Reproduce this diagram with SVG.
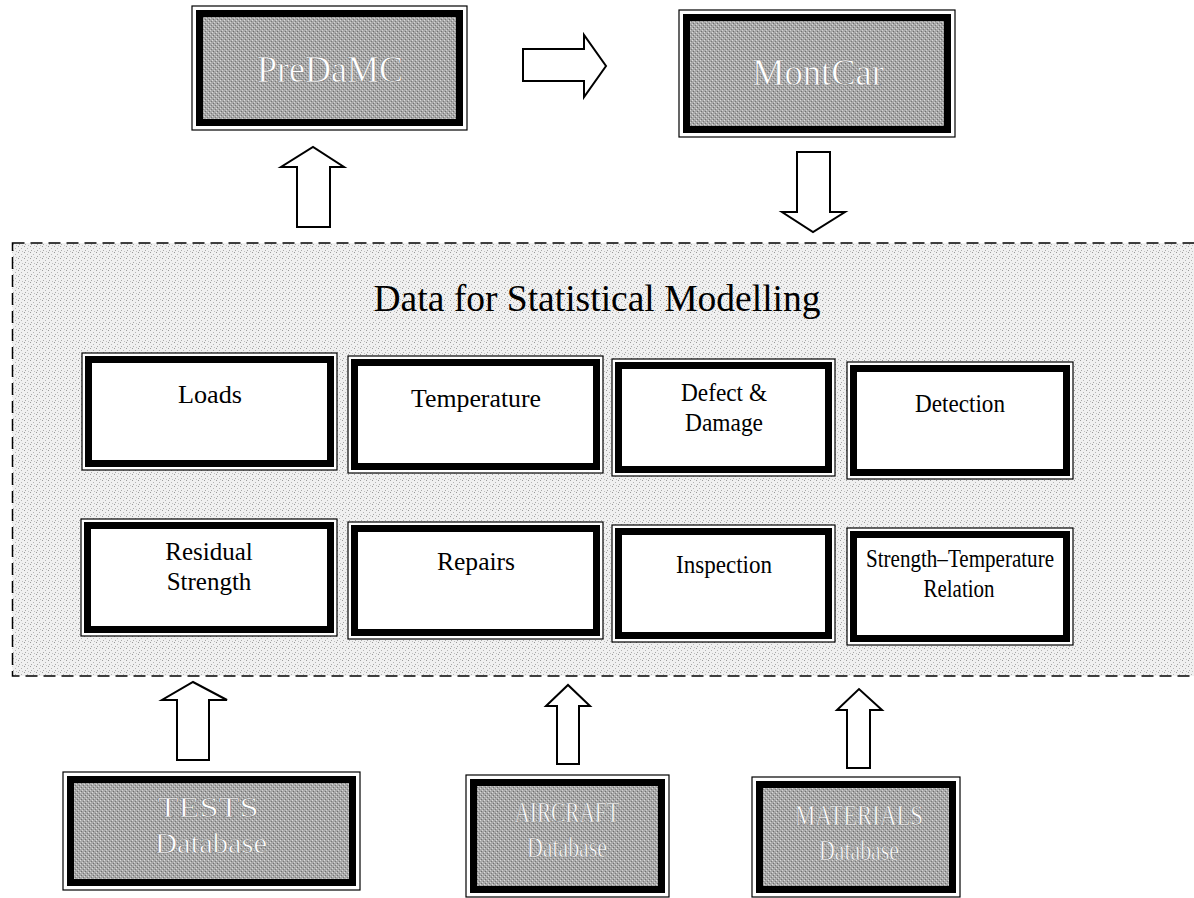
<svg xmlns="http://www.w3.org/2000/svg" width="1194" height="898" viewBox="0 0 1194 898">
  <defs>
    <pattern id="speckle" width="6" height="6" patternUnits="userSpaceOnUse">
      <rect width="6" height="6" fill="#f0f0f0"/>
      <rect x="0" y="0" width="1" height="1" fill="#9a9a9a"/>
      <rect x="3" y="2" width="1" height="1" fill="#b4b4b4"/>
      <rect x="1" y="4" width="1" height="1" fill="#a8a8a8"/>
      <rect x="4" y="5" width="1" height="1" fill="#c0c0c0"/>
    </pattern>
    <pattern id="darkspeckle" width="4" height="4" patternUnits="userSpaceOnUse">
      <rect width="4" height="4" fill="#a8a8a8"/>
      <rect x="0" y="0" width="1" height="1" fill="#dadada"/>
      <rect x="2" y="2" width="1" height="1" fill="#d2d2d2"/>
      <rect x="1" y="3" width="1" height="1" fill="#707070"/>
      <rect x="3" y="1" width="1" height="1" fill="#7a7a7a"/>
    </pattern>
  </defs>
  <style>
    .outer { fill: #ffffff; stroke: #000; stroke-width: 1.2; }
    .band { fill: #ffffff; stroke: #000; stroke-width: 7; }
    .dband { fill: url(#darkspeckle); stroke: #000; stroke-width: 7; }
    .lbl { font-family: "Liberation Serif", "Times New Roman", serif; font-size: 25px; fill: #000; text-anchor: middle; }
    .dlbl { font-family: "Liberation Serif", "Times New Roman", serif; font-size: 38px; fill: #ffffff; text-anchor: middle; stroke: #7a7a7a; stroke-width: 0.5; }
    .dsm { font-size: 30px; }
    .title { font-family: "Liberation Serif", "Times New Roman", serif; font-size: 38px; fill: #000; text-anchor: middle; }
    .arrow { fill: #ffffff; stroke: #000; stroke-width: 2; stroke-linejoin: miter; }
    .container { fill: url(#speckle); stroke: #000; stroke-width: 1.5; stroke-dasharray: 12 6; }
  </style>

  <rect width="1194" height="898" fill="#ffffff"/>

  <g id="container">
    <rect class="container" x="12.5" y="243" width="1200" height="433"/>
    <text class="title" x="597" y="311" textLength="447" lengthAdjust="spacingAndGlyphs">Data for Statistical Modelling</text>
  </g>

  <g id="predamc">
    <rect class="outer" x="192" y="6" width="275" height="124"/>
    <rect class="dband" x="199.5" y="13.5" width="260" height="109"/>
    <text class="dlbl" x="330" y="82" textLength="146" lengthAdjust="spacingAndGlyphs">PreDaMC</text>
  </g>

  <g id="montcar">
    <rect class="outer" x="679" y="10" width="276" height="127"/>
    <rect class="dband" x="686.5" y="17.5" width="261" height="112"/>
    <text class="dlbl" x="818" y="85" textLength="132" lengthAdjust="spacingAndGlyphs">MontCar</text>
  </g>

  <g id="loads">
    <rect class="outer" x="82" y="353" width="255" height="117"/>
    <rect class="band" x="88.5" y="359.5" width="242" height="104"/>
    <text class="lbl" x="210" y="403" textLength="64" lengthAdjust="spacingAndGlyphs">Loads</text>
  </g>
  <g id="temperature">
    <rect class="outer" x="348" y="356" width="255" height="117"/>
    <rect class="band" x="354.5" y="362.5" width="242" height="104"/>
    <text class="lbl" x="476" y="407" textLength="130" lengthAdjust="spacingAndGlyphs">Temperature</text>
  </g>
  <g id="defect">
    <rect class="outer" x="612" y="359" width="223" height="117"/>
    <rect class="band" x="618.5" y="365.5" width="210" height="104"/>
    <text class="lbl" x="724" y="401" textLength="86" lengthAdjust="spacingAndGlyphs">Defect &amp;</text>
    <text class="lbl" x="724" y="431" textLength="78" lengthAdjust="spacingAndGlyphs">Damage</text>
  </g>
  <g id="detection">
    <rect class="outer" x="847" y="362" width="226" height="117"/>
    <rect class="band" x="853.5" y="368.5" width="213" height="104"/>
    <text class="lbl" x="960" y="412" textLength="90" lengthAdjust="spacingAndGlyphs">Detection</text>
  </g>

  <g id="residual">
    <rect class="outer" x="81" y="519" width="256" height="117"/>
    <rect class="band" x="87.5" y="525.5" width="243" height="104"/>
    <text class="lbl" x="209" y="560">Residual</text>
    <text class="lbl" x="209" y="590">Strength</text>
  </g>
  <g id="repairs">
    <rect class="outer" x="348" y="522" width="255" height="117"/>
    <rect class="band" x="354.5" y="528.5" width="242" height="104"/>
    <text class="lbl" x="476" y="570" textLength="78" lengthAdjust="spacingAndGlyphs">Repairs</text>
  </g>
  <g id="inspection">
    <rect class="outer" x="612" y="525" width="223" height="117"/>
    <rect class="band" x="618.5" y="531.5" width="210" height="104"/>
    <text class="lbl" x="724" y="573" textLength="96" lengthAdjust="spacingAndGlyphs">Inspection</text>
  </g>
  <g id="strength-temp">
    <rect class="outer" x="847" y="528" width="226" height="117"/>
    <rect class="band" x="853.5" y="534.5" width="213" height="104"/>
    <text class="lbl" x="960" y="567" textLength="188" lengthAdjust="spacingAndGlyphs">Strength–Temperature</text>
    <text class="lbl" x="959" y="597" textLength="71" lengthAdjust="spacingAndGlyphs">Relation</text>
  </g>

  <g id="tests">
    <rect class="outer" x="63" y="772" width="297" height="118"/>
    <rect class="dband" x="70.5" y="779.5" width="282" height="103"/>
    <text class="dlbl dsm" x="208" y="817" textLength="101" lengthAdjust="spacingAndGlyphs">TESTS</text>
    <text class="dlbl dsm" x="211" y="853" textLength="112" lengthAdjust="spacingAndGlyphs">Database</text>
  </g>
  <g id="aircraft">
    <rect class="outer" x="466" y="775" width="203" height="122"/>
    <rect class="dband" x="473.5" y="782.5" width="188" height="107"/>
    <text class="dlbl dsm" x="567" y="822" textLength="105" lengthAdjust="spacingAndGlyphs">AIRCRAFT</text>
    <text class="dlbl dsm" x="567" y="857" textLength="80" lengthAdjust="spacingAndGlyphs">Database</text>
  </g>
  <g id="materials">
    <rect class="outer" x="752" y="777" width="208" height="120"/>
    <rect class="dband" x="759.5" y="784.5" width="193" height="105"/>
    <text class="dlbl dsm" x="859" y="825" textLength="128" lengthAdjust="spacingAndGlyphs">MATERIALS</text>
    <text class="dlbl dsm" x="859" y="860" textLength="80" lengthAdjust="spacingAndGlyphs">Database</text>
  </g>

  <g id="connectors">
    <polygon class="arrow" points="523,49 584,49 584,35 606,66 584,97 584,81 523,81"/>
    <polygon class="arrow" points="297,227 297,167 281,167 313,147 344,167 330,167 330,227"/>
    <polygon class="arrow" points="797,152 830,152 830,212 845,212 813,232 782,212 797,212"/>
    <polygon class="arrow" points="177,760 177,700 162,700 193,682 227,700 209,700 209,760"/>
    <polygon class="arrow" points="557,764 557,706 546,706 568,685 590,706 579,706 579,764"/>
    <polygon class="arrow" points="847,768 847,710 837,710 859,689 882,710 870,710 870,768"/>
  </g>
</svg>
